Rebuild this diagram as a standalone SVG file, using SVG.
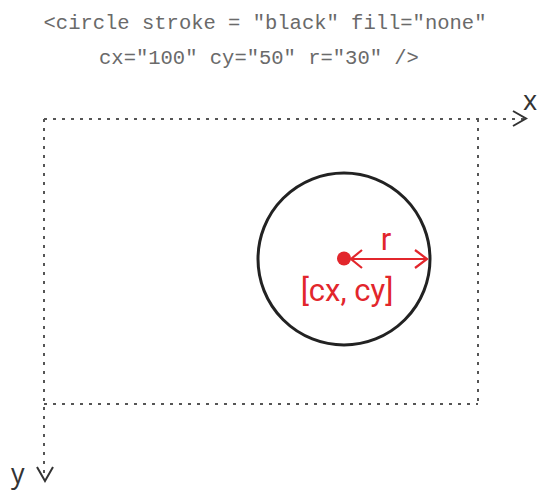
<svg xmlns="http://www.w3.org/2000/svg" width="538" height="492" viewBox="0 0 538 492">
  <style>
    .code { font-family: "Liberation Mono", "Courier New", monospace; font-size: 20.5px; fill: #6a6a6a; }
    .axis { fill: none; stroke: #555; stroke-width: 2; stroke-dasharray: 3 6; }
    .head { fill: none; stroke: #333; stroke-width: 2; stroke-linejoin: miter; }
    .axlabel { font-family: "Open Sans", "Liberation Sans", sans-serif; font-size: 27px; fill: #333; }
    .red { fill: #e2262c; }
    .redline { fill: none; stroke: #e2262c; stroke-width: 2.2; }
    .redtext { font-family: "Roboto", "Liberation Sans", sans-serif; font-size: 31px; fill: #e2262c; }
  </style>
  <rect width="538" height="492" fill="#fff"/>

  <g id="code">
    <text class="code" x="265" y="29" text-anchor="middle" xml:space="preserve">&lt;circle stroke = "black" fill="none"</text>
    <text class="code" x="259" y="64" text-anchor="middle" xml:space="preserve">cx="100" cy="50" r="30" /&gt;</text>
  </g>

  <g id="connectors">
    <!-- coordinate axes -->
    <line class="axis" x1="44" y1="119" x2="524" y2="119"/>
    <line class="axis" x1="44" y1="119" x2="44" y2="478"/>
    <!-- viewport bounds -->
    <line class="axis" x1="478" y1="119" x2="478" y2="404"/>
    <line class="axis" x1="44" y1="404" x2="478" y2="404"/>
    <polyline class="head" points="513,111 526,118.5 513,126"/>
    <polyline class="head" points="37,467 45,481 53,467"/>
  </g>

  <g id="axis-x"><text class="axlabel" x="523" y="110">x</text></g>
  <g id="axis-y"><text class="axlabel" x="11" y="483">y</text></g>

  <g id="circle">
    <circle cx="344" cy="259" r="86" fill="none" stroke="#222" stroke-width="3"/>
  </g>

  <g id="center">
    <circle class="red" cx="344" cy="258.5" r="7"/>
    <text class="redtext" x="347" y="301" text-anchor="middle">[cx, cy]</text>
  </g>

  <g id="radius">
    <line class="redline" x1="351" y1="259" x2="427" y2="259"/>
    <polyline class="redline" points="362,250 351,259 362,268"/>
    <polyline class="redline" points="415,250 427,259 415,268"/>
    <text class="redtext" x="386" y="250" text-anchor="middle">r</text>
  </g>
</svg>
